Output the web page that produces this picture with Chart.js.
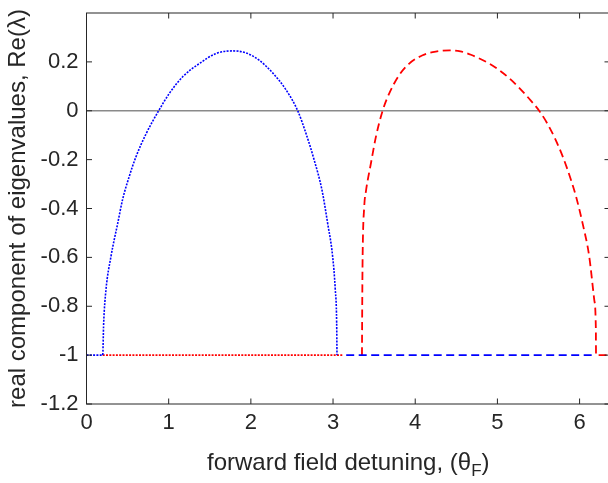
<!DOCTYPE html>
<html>
<head>
<meta charset="utf-8">
<script src="https://cdn.jsdelivr.net/npm/chart.js@4.4.0/dist/chart.umd.min.js"></script>
<style>
  html, body { margin: 0; padding: 0; overflow: hidden; background: #fff; }
  #wrap { width: 612px; height: 483px; }
</style>
</head>
<body>
<div id="wrap"><canvas id="eig-chart"></canvas></div>
<script>
// tick labels
const xTicks = [0, 1, 2, 3, 4, 5, 6];
const yTicks = [-1.2, -1, -0.8, -0.6, -0.4, -0.2, 0, 0.2];

// first half: theta_F in [0, pi]
const upX1 = [0, 0.197, 0.209, 0.237, 0.298, 0.38, 0.44, 0.52, 0.60, 0.724, 0.878, 1.008, 1.17, 1.373, 1.575, 1.779, 1.94, 2.10, 2.265, 2.427, 2.57, 2.67, 2.77, 2.865, 2.934, 2.995, 3.027, 3.044, 3.048];
const upY1 = [-1, -1, -0.868, -0.732, -0.596, -0.46, -0.362, -0.269, -0.19, -0.095, 0, 0.071, 0.139, 0.193, 0.234, 0.245, 0.237, 0.207, 0.155, 0.086, 0, -0.092, -0.201, -0.324, -0.46, -0.596, -0.732, -0.868, -1];
const lowX1 = [0.197, 3.12];
const lowY1 = [-1, -1];

// second half: theta_F in [pi, 2pi]
const upX2 = [3.352, 3.355, 3.36, 3.38, 3.40, 3.461, 3.522, 3.603, 3.684, 3.805, 3.927, 4.09, 4.25, 4.42, 4.55, 4.678, 4.90, 5.022, 5.144, 5.265, 5.387, 5.508, 5.60, 5.70, 5.80, 5.90, 5.96, 6.036, 6.117, 6.178, 6.198, 6.2, 6.37];
const upY2 = [-1, -0.8, -0.596, -0.39, -0.33, -0.215, -0.106, 0, 0.071, 0.146, 0.193, 0.227, 0.242, 0.247, 0.243, 0.229, 0.193, 0.166, 0.133, 0.094, 0.049, 0, -0.048, -0.113, -0.192, -0.288, -0.355, -0.46, -0.596, -0.773, -0.895, -1, -1];
const lowX2 = [3.16, 6.17];
const lowY2 = [-1, -1];

const zeroX = [0, 6.37];
const zeroY = [0, 0];

const pts = (xs, ys) => xs.map((x, i) => ({ x: x, y: ys[i] }));

const FONT = '"Liberation Sans", Arial, Helvetica, sans-serif';
const INK = '#262626';

// box, inward ticks and the x label with its subscript
const frame = {
  id: 'frame',
  afterDraw(chart) {
    const { ctx, chartArea: a, scales: { x, y } } = chart;
    const tl = 5.5;
    ctx.save();
    ctx.strokeStyle = INK;
    ctx.lineWidth = 1;
    ctx.strokeRect(a.left, a.top, a.right - a.left, a.bottom - a.top);
    ctx.beginPath();
    xTicks.forEach(v => {
      const px = x.getPixelForValue(v);
      ctx.moveTo(px, a.bottom); ctx.lineTo(px, a.bottom - tl);
      ctx.moveTo(px, a.top); ctx.lineTo(px, a.top + tl);
    });
    yTicks.forEach(v => {
      const py = y.getPixelForValue(v);
      ctx.moveTo(a.left, py); ctx.lineTo(a.left + tl, py);
      ctx.moveTo(a.right, py); ctx.lineTo(a.right - tl, py);
    });
    ctx.stroke();

    const main = 'forward field detuning, (\u03B8';
    const sub = 'F';
    const close = ')';
    const big = '24px ' + FONT;
    const small = '17px ' + FONT;
    ctx.fillStyle = INK;
    ctx.textBaseline = 'alphabetic';
    ctx.textAlign = 'left';
    ctx.font = big;
    const w1 = ctx.measureText(main).width;
    const w3 = ctx.measureText(close).width;
    ctx.font = small;
    const w2 = ctx.measureText(sub).width;
    const cx = (a.left + a.right) / 2;
    let tx = cx - (w1 + w2 + w3) / 2;
    const base = 470;
    ctx.font = big;
    ctx.fillText(main, tx, base);
    tx += w1;
    ctx.font = small;
    ctx.fillText(sub, tx, base + 6);
    tx += w2;
    ctx.font = big;
    ctx.fillText(close, tx, base);
    ctx.restore();
  }
};

const dotted = [2, 1.3];
const dashed = [8, 4.5];

const ctx = document.getElementById('eig-chart').getContext('2d');
new Chart(ctx, {
  type: 'line',
  data: {
    datasets: [
      { data: pts(upX1, upY1), borderColor: '#0000ff', borderWidth: 1.6, borderDash: dotted, cubicInterpolationMode: 'monotone', order: 1 },
      { data: pts(lowX1, lowY1), borderColor: '#ff0000', borderWidth: 1.6, borderDash: dotted, order: 2 },
      { data: pts(upX2, upY2), borderColor: '#ff0000', borderWidth: 1.8, borderDash: dashed, cubicInterpolationMode: 'monotone', order: 3 },
      { data: pts(lowX2, lowY2), borderColor: '#0000ff', borderWidth: 1.8, borderDash: dashed, order: 2 },
      { data: pts(zeroX, zeroY), borderColor: '#8a8a8a', borderWidth: 1.5, order: 9 }
    ]
  },
  options: {
    responsive: true,
    maintainAspectRatio: false,
    animation: false,
    parsing: false,
    elements: { point: { radius: 0 } },
    layout: { padding: { top: 13, right: 2, left: 0, bottom: 0 } },
    plugins: { legend: { display: false }, tooltip: { enabled: false } },
    scales: {
      x: {
        type: 'linear',
        min: 0,
        max: 6.37,
        afterBuildTicks: s => { s.ticks = xTicks.map(v => ({ value: v })); },
        afterFit: s => { s.height = 79; s.paddingLeft = 0; s.paddingRight = 0; },
        grid: { display: false, drawTicks: false },
        border: { display: false },
        ticks: { font: { family: FONT, size: 22 }, color: INK, padding: 6, maxRotation: 0, autoSkip: false, callback: v => String(v) }
      },
      y: {
        type: 'linear',
        min: -1.2,
        max: 0.4,
        afterBuildTicks: s => { s.ticks = yTicks.map(v => ({ value: v })); },
        afterFit: s => { s.width = 86.5; s.paddingTop = 0; s.paddingBottom = 0; },
        grid: { display: false, drawTicks: false },
        border: { display: false },
        ticks: { font: { family: FONT, size: 22 }, color: INK, padding: 8, callback: v => String(Math.round(v * 10) / 10) },
        title: {
          display: true,
          text: 'real component of eigenvalues, Re(\u03BB)',
          font: { family: FONT, size: 24 },
          color: INK,
          padding: { top: 3.5, bottom: 0 }
        }
      }
    }
  },
  plugins: [frame]
});
</script>
</body>
</html>
